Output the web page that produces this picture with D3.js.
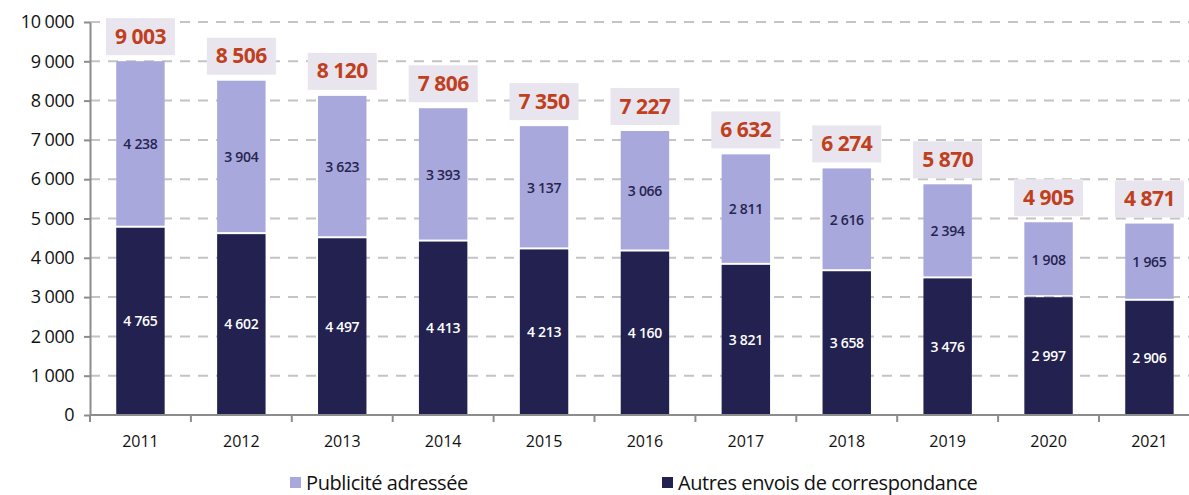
<!DOCTYPE html>
<html>
<head>
<meta charset="utf-8">
<script src="https://cdn.jsdelivr.net/npm/d3@7"></script>
<style>
  body { margin: 0; background: #fff; }
  text { font-family: "Open Sans", "Noto Sans", sans-serif; }
</style>
</head>
<body>
<div id="chart"></div>
<script>
// Data (millions d'objets)
const years = ['2011', '2012', '2013', '2014', '2015', '2016', '2017', '2018', '2019', '2020', '2021'];
const autres = [4765, 4602, 4497, 4413, 4213, 4160, 3821, 3658, 3476, 2997, 2906];
const publicite = [4238, 3904, 3623, 3393, 3137, 3066, 2811, 2616, 2394, 1908, 1965];
const totals = [9003, 8506, 8120, 7806, 7350, 7227, 6632, 6274, 5870, 4905, 4871];
const yTicks = [0, 1000, 2000, 3000, 4000, 5000, 6000, 7000, 8000, 9000, 10000];

const colorLight = '#a8a8dc';
const colorDark = '#23214f';

const width = 1189, height = 495;
const margin = { top: 22, left: 90, bottom: 80 };
const fmt = v => d3.format(',')(v).replace(/,/g, ' ');

const svg = d3.select('#chart').append('svg')
    .attr('width', width)
    .attr('height', height);

const x = d3.scaleBand()
    .domain(years)
    .range([margin.left, margin.left + 11 * 100.9])
    .paddingInner(0.52)
    .paddingOuter(0.26);

const y = d3.scaleLinear()
    .domain([0, 10000])
    .range([height - margin.bottom, margin.top]);

// dashed gridlines
svg.append('g')
    .selectAll('line')
    .data(yTicks.filter(d => d > 0))
    .join('line')
    .attr('x1', margin.left)
    .attr('x2', width)
    .attr('y1', d => y(d))
    .attr('y2', d => y(d))
    .attr('stroke', '#c4c4c4')
    .attr('stroke-width', 2)
    .attr('stroke-dasharray', '10,8');

// y axis
const yAxis = d3.axisLeft(y)
    .tickValues(yTicks)
    .tickFormat(fmt)
    .tickSize(6)
    .tickSizeOuter(0);

const yAxisG = svg.append('g')
    .attr('transform', `translate(${margin.left},0)`)
    .call(yAxis);
yAxisG.select('.domain').attr('stroke', '#8c8c8c').attr('stroke-width', 2);
yAxisG.selectAll('.tick line').attr('stroke', '#8c8c8c').attr('stroke-width', 2);
yAxisG.selectAll('.tick text')
    .attr('x', -16)
    .style('font-size', '18px')
    .style('font-family', '"Open Sans", sans-serif')
    .style('letter-spacing', '-0.5px')
    .attr('fill', '#111');

// stacked bars
const step = x.step();
const bars = svg.append('g');

bars.selectAll('.dark')
    .data(years)
    .join('rect')
    .attr('class', 'dark')
    .attr('x', d => x(d))
    .attr('width', x.bandwidth())
    .attr('y', (d, i) => y(autres[i]))
    .attr('height', (d, i) => y(0) - y(autres[i]))
    .attr('fill', colorDark);

bars.selectAll('.light')
    .data(years)
    .join('rect')
    .attr('class', 'light')
    .attr('x', d => x(d))
    .attr('width', x.bandwidth())
    .attr('y', (d, i) => y(autres[i] + publicite[i]))
    .attr('height', (d, i) => y(autres[i]) - y(autres[i] + publicite[i]) - 2)
    .attr('fill', colorLight);

// segment labels
bars.selectAll('.lbl-dark')
    .data(years)
    .join('text')
    .attr('x', d => x(d) + x.bandwidth() / 2)
    .attr('y', (d, i) => y(autres[i] / 2))
    .attr('dy', '0.35em')
    .attr('text-anchor', 'middle')
    .attr('fill', '#fff')
    .style('font-size', '14px')
    .style('font-weight', 600)
    .style('letter-spacing', '-0.3px')
    .text((d, i) => fmt(autres[i]));

bars.selectAll('.lbl-light')
    .data(years)
    .join('text')
    .attr('x', d => x(d) + x.bandwidth() / 2)
    .attr('y', (d, i) => y(autres[i] + publicite[i] / 2))
    .attr('dy', '0.35em')
    .attr('text-anchor', 'middle')
    .attr('fill', '#26244f')
    .style('font-size', '14px')
    .style('font-weight', 600)
    .style('letter-spacing', '-0.3px')
    .text((d, i) => fmt(publicite[i]));

// total boxes
const totG = svg.append('g')
    .selectAll('g')
    .data(years)
    .join('g')
    .attr('transform', (d, i) => `translate(${x(d) + x.bandwidth() / 2},${y(totals[i]) - 25})`);

totG.append('rect')
    .attr('x', -34.5)
    .attr('y', -18)
    .attr('width', 69)
    .attr('height', 37)
    .attr('fill', '#e9e5ee');

totG.append('text')
    .attr('text-anchor', 'middle')
    .attr('dy', '0.36em')
    .attr('fill', '#c0401e')
    .style('font-size', '21px')
    .style('font-weight', 700)
    .style('letter-spacing', '-0.5px')
    .text((d, i) => fmt(totals[i]));

// x axis
const xAxisG = svg.append('g')
    .attr('transform', `translate(0,${y(0)})`);

xAxisG.append('line')
    .attr('x1', margin.left)
    .attr('x2', width)
    .attr('stroke', '#8c8c8c')
    .attr('stroke-width', 2);

xAxisG.selectAll('.xtick')
    .data(years)
    .join('line')
    .attr('x1', d => x(d) - (step - x.bandwidth()) / 2)
    .attr('x2', d => x(d) - (step - x.bandwidth()) / 2)
    .attr('y1', 0)
    .attr('y2', 7)
    .attr('stroke', '#8c8c8c')
    .attr('stroke-width', 2);

xAxisG.selectAll('.xlbl')
    .data(years)
    .join('text')
    .attr('x', d => x(d) + x.bandwidth() / 2)
    .attr('y', 32)
    .attr('text-anchor', 'middle')
    .attr('fill', '#111')
    .style('font-size', '16px')
    .text(d => d);

// legend
const legend = [
    { label: 'Publicité adressée', color: colorLight, x: 290 },
    { label: 'Autres envois de correspondance', color: colorDark, x: 662 }
];
const lg = svg.append('g')
    .selectAll('g')
    .data(legend)
    .join('g')
    .attr('transform', d => `translate(${d.x},483)`);
lg.append('rect')
    .attr('x', 0)
    .attr('y', -6)
    .attr('width', 11)
    .attr('height', 11)
    .attr('fill', d => d.color);
lg.append('text')
    .attr('x', 16)
    .attr('dy', '0.35em')
    .attr('fill', '#111')
    .style('font-size', '20px')
    .style('letter-spacing', '-0.4px')
    .text(d => d.label);
</script>
</body>
</html>
